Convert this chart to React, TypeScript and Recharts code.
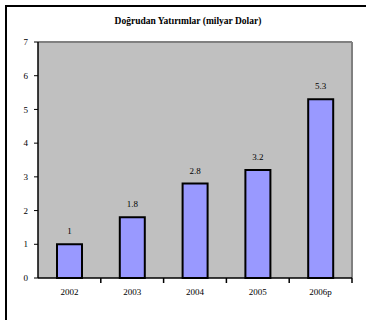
import React from 'react';
import { BarChart, Bar, XAxis, YAxis, CartesianGrid, LabelList } from 'recharts';

// Foreign direct investment, billion dollars
const years = ['2002', '2003', '2004', '2005', '2006p'];
const values = [1, 1.8, 2.8, 3.2, 5.3];
const yTicks = [0, 1, 2, 3, 4, 5, 6, 7];

const data = years.map((year, i) => ({ year, value: values[i] }));

const font = 'Liberation Serif, Times New Roman, serif';
const tickStyle = { fontSize: 9, fill: '#000', fontFamily: font };
const X_TICK_GAP = 11;

// category label plus a small mark on the right edge of its band
const YearTick = (props: any) => {
  const { x, y, payload, width, visibleTicksCount } = props;
  const axisY = y - X_TICK_GAP;
  const fromOffset = Number(payload.offset) || 0;
  const fromWidth = Number(width) > 0 && visibleTicksCount ? Number(width) / visibleTicksCount / 2 : 0;
  const half = fromOffset > 5 ? fromOffset : fromWidth;
  const edge = x + half;
  return (
    <g>
      <line x1={edge} y1={axisY} x2={edge} y2={axisY + 5} stroke="#000" strokeWidth={1.5} />
      <text x={x} y={y} dy="0.71em" textAnchor="middle" {...tickStyle}>
        {payload.value}
      </text>
    </g>
  );
};

const App: React.FC = () => {
  return (
    <div style={{ position: 'absolute', left: 0, top: 0, width: 366, height: 320, background: '#fff', overflow: 'hidden' }}>
      {/* outer frame, only left and top edges are visible */}
      <div
        style={{
          position: 'absolute',
          left: 5,
          top: 5,
          width: 361,
          height: 315,
          borderLeft: '2px solid #000',
          borderTop: '2px solid #000',
          boxSizing: 'border-box',
        }}
      />
      <div
        style={{
          position: 'absolute',
          left: 10,
          width: 356,
          top: 16,
          textAlign: 'center',
          fontFamily: font,
          fontWeight: 'bold',
          fontSize: 9.5,
          color: '#000',
        }}
      >
        Doğrudan Yatırımlar (milyar Dolar)
      </div>
      <div style={{ position: 'absolute', left: 0, top: 0 }}>
        <BarChart
          width={366}
          height={320}
          data={data}
          margin={{ top: 42, right: 14, bottom: 0, left: 0 }}
          style={{ fontFamily: font }}
        >
          {/* gray plot area with a gray edge on top and right */}
          <CartesianGrid
            fill="#c0c0c0"
            stroke="#808080"
            strokeWidth={2}
            horizontalCoordinatesGenerator={({ offset }: any) => [offset.top]}
            verticalCoordinatesGenerator={({ offset }: any) => [offset.left + offset.width]}
          />
          <XAxis
            dataKey="year"
            tick={<YearTick />}
            tickLine={false}
            tickSize={0}
            tickMargin={X_TICK_GAP}
            interval={0}
            axisLine={{ stroke: '#000', strokeWidth: 1.5 }}
            height={42}
          />
          <YAxis
            domain={[0, 7]}
            ticks={yTicks}
            interval={0}
            tick={tickStyle}
            tickSize={4}
            tickMargin={6}
            tickLine={{ stroke: '#000' }}
            axisLine={{ stroke: '#000', strokeWidth: 1.5 }}
            width={38}
          />
          <Bar dataKey="value" barSize={25} fill="#9999ff" stroke="#000" strokeWidth={2} isAnimationActive={false}>
            <LabelList dataKey="value" position="top" offset={10} style={tickStyle} />
          </Bar>
        </BarChart>
      </div>
    </div>
  );
};

export default App;
